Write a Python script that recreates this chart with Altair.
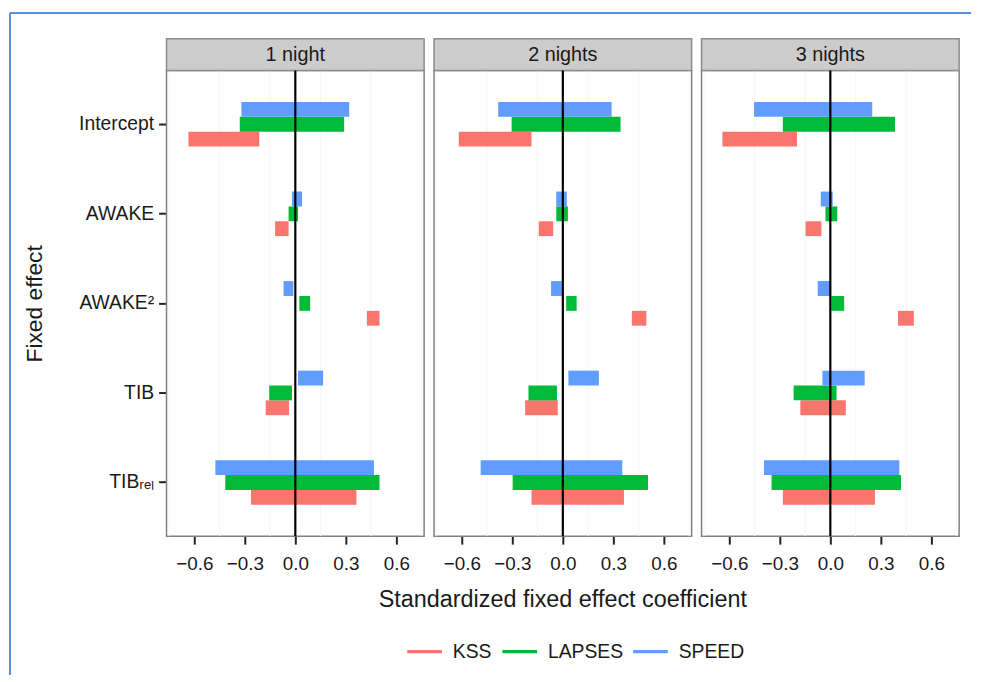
import altair as alt
import pandas as pd

nights = ["1 night", "2 nights", "3 nights"]
effects = ["Intercept", "AWAKE", "AWAKE²", "TIB", "TIBᵣₑₗ"]
measures = ["KSS", "LAPSES", "SPEED"]
colors = ["#F8766D", "#00BA38", "#619CFF"]

# lower / upper bounds, in effect order, per night and measure
kss_lo = {"1 night": [-0.635, -0.12, 0.425, -0.176, -0.263],
          "2 nights": [-0.618, -0.143, 0.41, -0.224, -0.186],
          "3 nights": [-0.641, -0.147, 0.402, -0.178, -0.282]}
kss_hi = {"1 night": [-0.214, -0.04, 0.50, -0.037, 0.363],
          "2 nights": [-0.186, -0.057, 0.496, -0.03, 0.363],
          "3 nights": [-0.198, -0.053, 0.496, 0.092, 0.265]}
lapses_lo = {"1 night": [-0.33, -0.04, 0.024, -0.155, -0.416],
             "2 nights": [-0.304, -0.039, 0.02, -0.204, -0.298],
             "3 nights": [-0.282, -0.029, 0.006, -0.218, -0.349]}
lapses_hi = {"1 night": [0.29, 0.016, 0.088, -0.02, 0.50],
             "2 nights": [0.343, 0.03, 0.082, -0.035, 0.506],
             "3 nights": [0.384, 0.041, 0.082, 0.037, 0.42]}
speed_lo = {"1 night": [-0.32, -0.02, -0.07, 0.016, -0.475],
            "2 nights": [-0.384, -0.039, -0.07, 0.033, -0.488],
            "3 nights": [-0.453, -0.057, -0.075, -0.047, -0.394]}
speed_hi = {"1 night": [0.32, 0.04, -0.012, 0.165, 0.467],
            "2 nights": [0.29, 0.024, -0.006, 0.214, 0.353],
            "3 nights": [0.249, 0.014, -0.002, 0.204, 0.41]}

x_ticks = [-0.6, -0.3, 0.0, 0.3, 0.6]
x_minor = [-0.75, -0.45, -0.15, 0.15, 0.45, 0.75]
x_title = "Standardized fixed effect coefficient"

LO = {"KSS": kss_lo, "LAPSES": lapses_lo, "SPEED": speed_lo}
HI = {"KSS": kss_hi, "LAPSES": lapses_hi, "SPEED": speed_hi}

rows = []
for night in nights:
    for m in measures:
        for i, eff in enumerate(effects):
            rows.append({"night": night, "measure": m, "effect": eff,
                         "lo": LO[m][night][i], "hi": HI[m][night][i]})
df = pd.DataFrame(rows)

W, H = 260, 470
FONT = "Liberation Sans"
one_row = "datum.effect == 'Intercept' && datum.measure == 'KSS'"

xscale = alt.Scale(domain=[-0.765, 0.765], nice=False, zero=False)
yscale = alt.Scale(domain=effects, paddingInner=0, paddingOuter=0.1)

base = alt.Chart()

minor = [
    base.mark_rule(color="#f6f6f6", strokeWidth=1).encode(x=alt.datum(v)).transform_filter(one_row)
    for v in x_minor
]

bars = base.mark_bar().encode(
    x=alt.X("lo:Q", scale=xscale,
            axis=alt.Axis(values=x_ticks, format=".1f", title=None)),
    x2="hi:Q",
    y=alt.Y("effect:N", scale=yscale, sort=effects,
            axis=alt.Axis(title="Fixed effect", bandPosition=0.5)),
    yOffset=alt.YOffset("measure:N", sort=["SPEED", "LAPSES", "KSS"],
                        scale=alt.Scale(range=[22.7, 67.7], paddingInner=0, paddingOuter=0)),
    color=alt.Color("measure:N", scale=alt.Scale(domain=measures, range=colors),
                    legend=alt.Legend(orient="none", direction="horizontal", title=None,
                                      legendX=243, legendY=569,
                                      symbolType="M-1,-0.1L1,-0.1L1,0.1L-1,0.1Z",
                                      symbolSize=1225, symbolStrokeWidth=0,
                                      labelOffset=11, columnPadding=10)),
)

zero = base.mark_rule(color="black", strokeWidth=2.2).encode(
    x=alt.datum(0)
).transform_filter(one_row)

strip = base.mark_rect(fill="#cccccc", stroke="#8c8c8c", strokeWidth=1.5).encode(
    x=alt.value(0), x2=alt.value(W), y=alt.value(-32), y2=alt.value(0)
).transform_filter(one_row)

strip_text = base.mark_text(fontSize=20, font=FONT, color="#1a1a1a", baseline="middle").encode(
    x=alt.value(W / 2), y=alt.value(-16), text="night:N"
).transform_filter(one_row)

xtitle = base.mark_text(fontSize=23.6, font=FONT, color="#1a1a1a", baseline="alphabetic").encode(
    x=alt.value(W / 2), y=alt.value(H + 71), text=alt.value(x_title)
).transform_filter(one_row + " && datum.night == '2 nights'")

first = one_row + " && datum.night == '1 night'"
frame_top = base.mark_rule(color="#5b8ed6", strokeWidth=2).encode(
    x=alt.value(-158), x2=alt.value(812), y=alt.value(-58)
).transform_filter(first)
frame_left = base.mark_rule(color="#5b8ed6", strokeWidth=2).encode(
    x=alt.value(-158), y=alt.value(-58), y2=alt.value(610)
).transform_filter(first)

layered = alt.layer(*minor, frame_top, frame_left, strip, strip_text, xtitle, bars, zero,
                    data=df).properties(width=W, height=H)

chart = layered.facet(
    column=alt.Column("night:N", sort=nights, header=None),
    spacing=10,
    bounds="flush",
).properties(
    padding=0, background="white"
).configure_view(
    stroke="#7f7f7f", strokeWidth=1.5
).configure_axis(
    labelFont=FONT, titleFont=FONT, labelColor="#1a1a1a", titleColor="#1a1a1a",
    tickColor="#222222", tickWidth=2, tickSize=8, domain=False,
    gridColor="#ebebeb", titleFontWeight="normal", titleFontSize=23,
).configure_axisX(
    labelFontSize=19, labelPadding=11,
).configure_axisY(
    labelFontSize=19.5, labelPadding=5, titlePadding=32,
).configure_legend(
    labelFont=FONT, labelFontSize=19.5, labelColor="#1a1a1a",
)

chart.save("out.html", embed_options={"renderer": "svg", "actions": False})
